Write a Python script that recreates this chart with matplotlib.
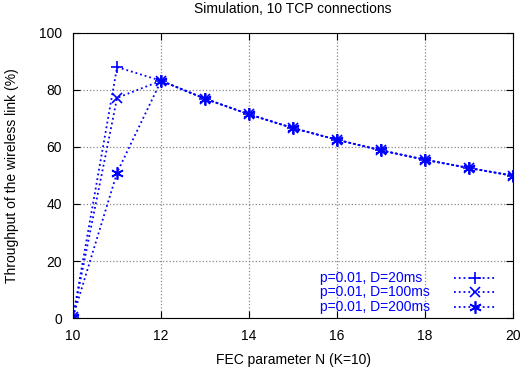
import matplotlib
matplotlib.use('Agg')
import matplotlib.pyplot as plt
import numpy as np

plt.rcParams['font.family'] = ['Liberation Sans', 'DejaVu Sans']

N = [10, 11, 12, 13, 14, 15, 16, 17, 18, 19, 20]
d20 = [0.5, 88.0, 83.2, 76.9, 71.4, 66.6, 62.5, 58.8, 55.5, 52.6, 49.9]
d100 = [0.5, 77.2, 83.2, 76.9, 71.4, 66.6, 62.5, 58.8, 55.5, 52.6, 49.9]
d200 = [0.5, 51.0, 83.2, 76.9, 71.4, 66.6, 62.5, 58.8, 55.5, 52.6, 49.9]
labels = ['p=0.01, D=20ms', 'p=0.01, D=100ms', 'p=0.01, D=200ms']
markers = ['+', 'x', (6, 2, 0)]
msizes = [8, 7, 9]

fig = plt.figure(figsize=(5.22, 3.69), dpi=100)
ax = fig.add_axes([0.140, 0.138, 0.843, 0.773])

blue = '#0000ff'
for ys, m, s in zip([d20, d100, d200], markers, msizes):
    ax.plot(N, ys, ls=':', color=blue, marker=m, ms=s, mew=1.2, lw=1.3)

# gnuplot style key: left-justified text, sample line to the right
for i, (lab, m, s) in enumerate(zip(labels, markers, msizes)):
    yk = 0.14 - i * 0.05
    ax.text(0.561, yk, lab, transform=ax.transAxes, color=blue, fontsize=10,
            ha='left', va='center')
    ax.plot([0.865, 0.96], [yk, yk], transform=ax.transAxes, ls=':', color=blue, lw=1.3)
    ax.plot([0.9125], [yk], transform=ax.transAxes, color=blue, marker=m, ms=s, mew=1.2)

ax.set_xlim(10, 20)
ax.set_ylim(0, 100)
ax.set_xticks(range(10, 21, 2))
ax.set_yticks(range(0, 101, 20))
ax.grid(True, ls=':', color='#888888', lw=0.9)
ax.tick_params(direction='in', top=True, right=True, labelsize=10, length=5, pad=8)

fig.text(0.56, 1 - 9 / 369, 'Simulation, 10 TCP connections', fontsize=10,
         ha='center', va='center')
ax.set_xlabel('FEC parameter N (K=10)', fontsize=10, labelpad=7)
ax.set_ylabel('Throughput of the wireless link (%)', fontsize=10, labelpad=14)

fig.savefig('out.png', dpi=100)
